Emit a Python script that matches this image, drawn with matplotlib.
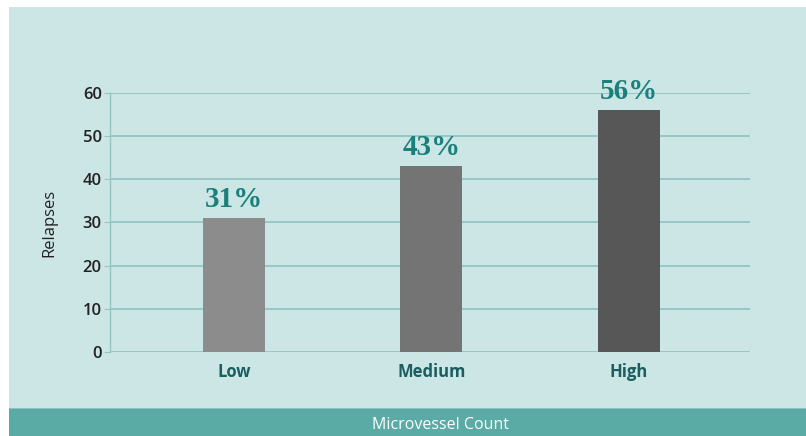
import matplotlib.pyplot as plt
from matplotlib.patches import Rectangle

categorias = ['Low', 'Medium', 'High']
recaidas = [31, 43, 56]
rotulos = ['31%', '43%', '56%']
coresBarras = ['#8c8c8c', '#747474', '#575757']

fundo = '#cce6e5'
faixa = '#5aaaa6'
grade = '#93c5c2'
teal = '#1b807b'
fonte = ['Open Sans', 'DejaVu Sans']

fig = plt.figure(figsize=(8.06, 4.36), dpi=100)
fig.patch.set_facecolor('white')

# fundo claro e faixa inferior
fig.patches.append(Rectangle((9 / 806, 28 / 436), 1, 401 / 436, transform=fig.transFigure,
                             facecolor=fundo, edgecolor='none', zorder=-5))
fig.patches.append(Rectangle((9 / 806, 0), 1, 28 / 436, transform=fig.transFigure,
                             facecolor=faixa, edgecolor='none', zorder=-5))
fig.patches.append(Rectangle((9 / 806, 27 / 436), 1, 1.5 / 436, transform=fig.transFigure,
                             facecolor='#8cc3bf', edgecolor='none', zorder=-5))
fig.text(441 / 806, 11 / 436, 'Microvessel Count', color='white', fontsize=11.5,
         family=fonte, ha='center', va='center')

ax = fig.add_axes([110 / 806, 84 / 436, 640 / 806, 259 / 436])
ax.set_facecolor('none')
x = range(len(categorias))
ax.bar(x, recaidas, width=0.314, color=coresBarras, zorder=3)
for xi, v, r in zip(x, recaidas, rotulos):
    ax.text(xi, v + 1.3, r, ha='center', va='bottom', color=teal, fontsize=21,
            fontweight='bold', family=['Liberation Serif', 'DejaVu Serif'])

ax.set_xlim(-0.628, 2.613)
ax.set_ylim(0, 60)
ax.set_yticks(range(0, 61, 10))
ax.yaxis.grid(True, color=grade, linewidth=1.3)
ax.set_axisbelow(True)
for s in ['top', 'right', 'bottom']:
    ax.spines[s].set_visible(False)
ax.spines['left'].set_color(grade)
ax.spines['left'].set_linewidth(1.0)
ax.tick_params(axis='y', length=4, color=grade, labelsize=12, labelcolor='#222222', pad=2)
ax.tick_params(axis='x', length=0, pad=8)
ax.set_xticks(list(x))
ax.set_xticklabels(categorias, fontsize=12, fontweight='bold', color='#1a5e60', family=fonte)
for t in ax.get_yticklabels():
    t.set_family(fonte)
    t.set_fontweight('semibold')
ax.set_ylabel('Relapses', fontsize=12, color='#222222', labelpad=18, family=fonte)

fig.savefig('out.png', dpi=100)
